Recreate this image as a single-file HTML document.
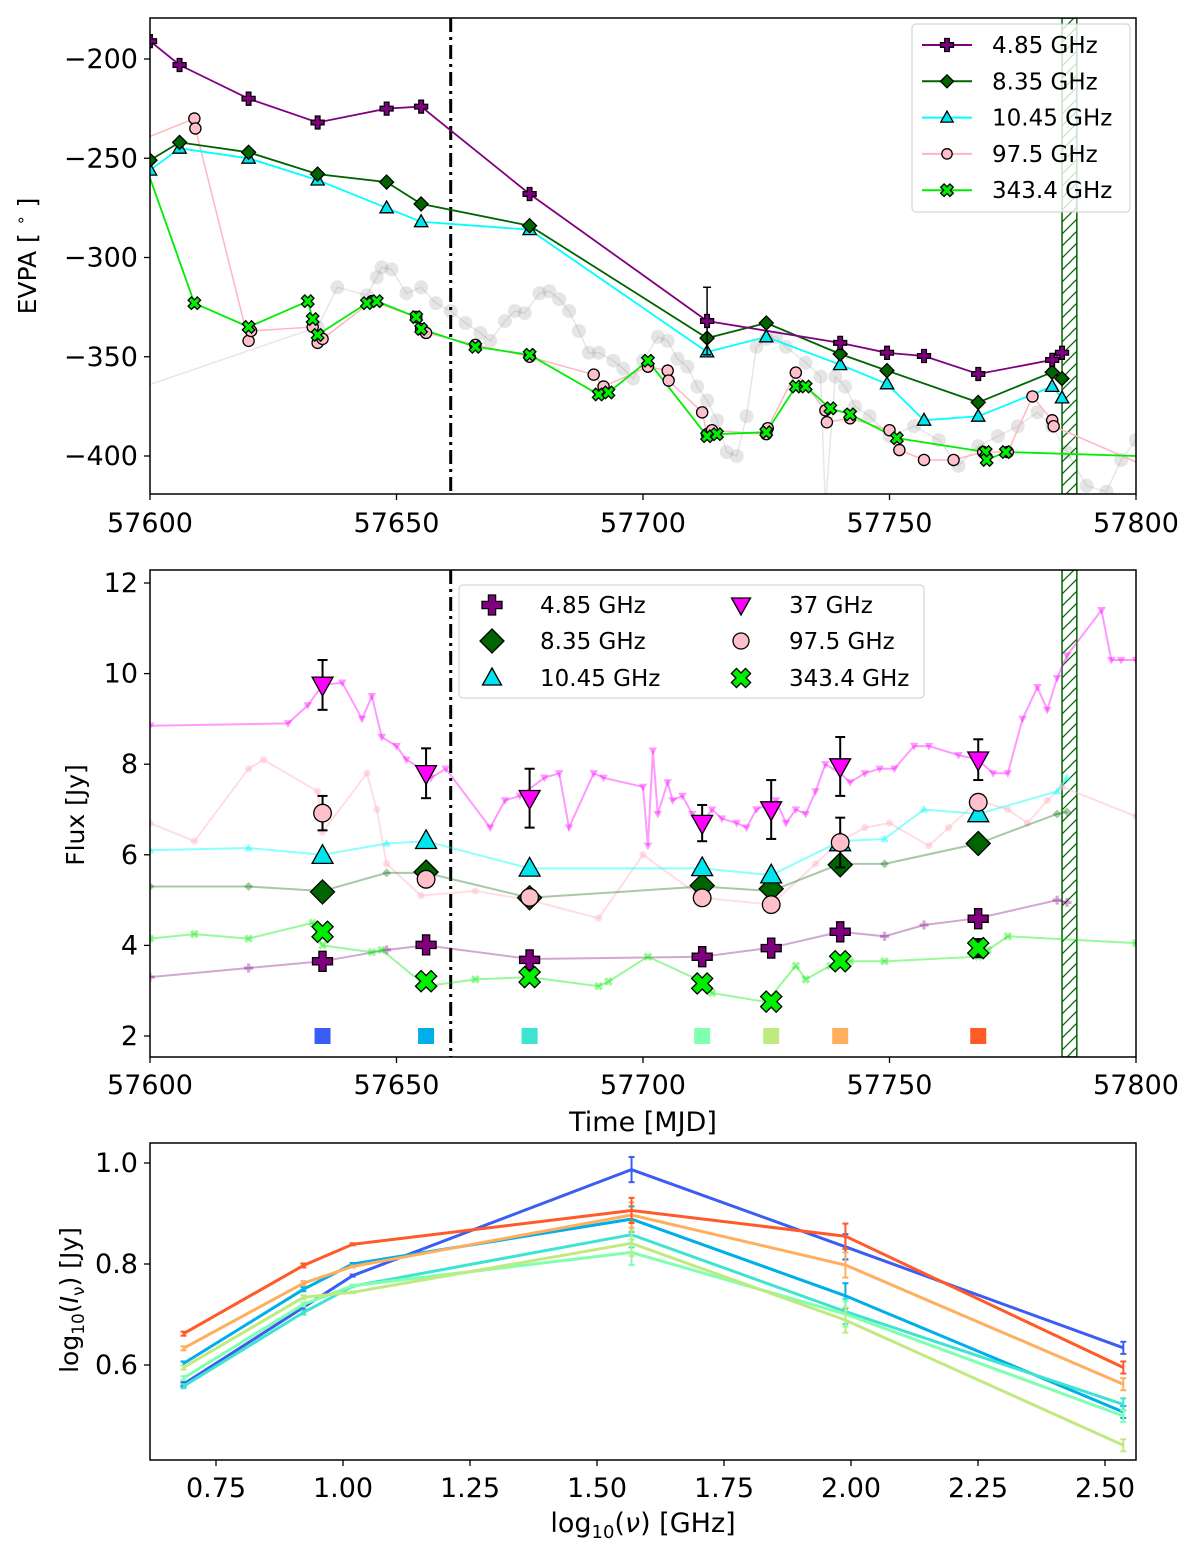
<!DOCTYPE html>
<html><head><meta charset="utf-8"><style>
html,body{margin:0;padding:0;background:#fff;}
svg{display:block;font-family:"DejaVu Sans","Liberation Sans",sans-serif;}
</style></head><body>
<svg id="fig" width="1200" height="1555" viewBox="0 0 1200 1555" xmlns="http://www.w3.org/2000/svg">
<defs>
<pattern id="hatch" patternUnits="userSpaceOnUse" width="12" height="12" patternTransform="rotate(0)">
<path d="M0,12 L12,0 M-3,3 L3,-3 M9,15 L15,9" stroke="#006400" stroke-width="1.2"/>
</pattern>
<clipPath id="c1"><rect x="150" y="18" width="986" height="476"/></clipPath>
<clipPath id="c2"><rect x="150" y="570" width="986" height="487"/></clipPath>
<clipPath id="c3"><rect x="150" y="1143" width="986" height="317"/></clipPath>
</defs>
<g id="p1" clip-path="url(#c1)"></g>
<g id="p2" clip-path="url(#c2)"></g>
<g id="p3" clip-path="url(#c3)"></g>
<g id="axes"></g>
</svg>
<script>
// ---------- EVPA panel data ----------
const evpaT485 = [57600,57606,57620,57634,57648,57655,57677,57713,57740,57749.5,57757,57768,57783,57785];
const evpaV485 = [-191,-203,-220,-232,-225,-224,-268,-332,-343,-348,-349.6,-358.7,-351.6,-348];
const evpaE485 = [0,0,0,0,0,0,0,17,0,0,0,0,0,0];
const evpaT835 = [57600,57606,57620,57634,57648,57655,57677,57713,57725,57740,57749.5,57768,57783,57785];
const evpaV835 = [-251,-242,-247,-258,-262,-273,-284,-340.6,-333,-348.6,-357,-373,-357.8,-361];
const evpaT1045 = [57600,57606,57620,57634,57648,57655,57677,57713,57725,57740,57749.5,57757,57768,57783,57785];
const evpaV1045 = [-256,-245,-250,-261,-275,-282,-286,-347.6,-340,-354,-363.7,-382,-380,-365,-370.8];
const evpaT975 = [57600,57609,57609.2,57620,57620.5,57633,57634,57635,57645,57654,57655,57656,57666,57677,57690,57692,57701,57705,57705.2,57712,57713,57714,57725,57725.3,57731,57737,57737.3,57742,57750,57752,57757,57763,57769,57774,57779,57783,57783.3,57800];
const evpaV975 = [-239,-230,-235,-342,-337,-335,-343,-341,-322,-330,-336,-338,-344,-350,-359,-365,-355,-357,-362,-378,-389,-387,-389,-386,-358,-377,-383,-381,-387,-397,-402,-402,-398,-398,-370,-382,-385,-403];
const evpaT3434 = [57600,57609,57620,57632,57633,57634,57644,57646,57654,57655,57666,57677,57691,57693,57701,57713,57715,57725,57731,57733,57738,57742,57751.5,57769.5,57769.7,57773.6,57800];
const evpaV3434 = [-260,-323,-335,-322,-331,-339,-323,-322,-330,-336,-345,-349,-369,-368,-352,-390,-389,-388,-365,-365,-376,-379,-391,-398,-402,-398,-400];
const evpaTopt = [57600,57634,57638,57644,57646,57647,57649,57652,57655,57658,57661,57664,57667,57669,57672,57674,57676,57679,57681,57683,57685,57687,57689,57691,57694,57696,57698,57700,57703,57705,57707,57709,57711,57713,57715,57717,57719,57721,57723,57725,57727,57729,57733,57736,57737,57739,57741,57743,57746,57750,57755,57760,57764,57768,57772,57776,57780,57783,57786,57790,57794,57797,57800];
const evpaVopt = [-364,-335,-315,-319,-310,-305,-306,-318,-315,-323,-327,-333,-338,-342,-332,-327,-328,-318,-317,-321,-327,-337,-348,-348,-352,-356,-361,-352,-340,-342,-351,-355,-365,-372,-382,-398,-400,-380,-345,-341,-340,-345,-353,-360,-425,-360,-365,-375,-380,-390,-385,-392,-405,-395,-390,-385,-378,-385,-398,-415,-418,-402,-392];
// ---------- Flux panel data ----------
const epochs = [57635,57656,57677,57712,57726,57740,57768];
const epochColors = ['#3b5ef2','#00aeea','#3ee4d0','#80ffb0','#c0ea80','#ffae5c','#ff5a28'];
const flux485 = [3.65,4.01,3.68,3.75,3.94,4.30,4.59];
const flux835 = [5.18,5.62,5.05,5.32,5.25,5.78,6.25];
const flux1045 = [5.98,6.31,5.70,5.71,5.55,6.26,6.90];
const flux37 = [9.75,7.80,7.25,6.70,7.00,7.95,8.10];
const flux37err = [0.55,0.55,0.65,0.4,0.65,0.65,0.45];
const flux975 = [6.92,5.46,5.06,5.05,4.90,6.27,7.16];
const flux975err = [0.38,0,0,0,0,0.55,0];
const flux3434 = [4.30,3.21,3.30,3.16,2.76,3.65,3.94];
const flux3434err = [0,0,0,0,0,0,0.2];
const bgT37 = [57600,57628,57632,57635,57639,57643,57645,57647,57650,57652,57655,57657,57660,57669,57672,57675,57680,57683,57685,57690,57692,57700,57701,57702,57703,57705,57706,57708,57710,57712,57714,57716,57719,57721,57723,57725,57727,57729,57731,57733,57735,57737,57740,57742,57745,57748,57751,57755,57758,57764,57768,57771,57774,57777,57780,57782,57784,57786,57793,57795,57797,57800];
const bgV37 = [8.85,8.9,9.3,9.75,9.8,9.0,9.5,8.6,8.4,8.1,7.9,7.7,7.9,6.6,7.2,7.3,7.7,7.8,6.6,7.8,7.7,7.5,6.2,8.3,6.9,7.6,7.2,7.3,6.9,6.7,7.0,6.8,6.7,6.6,7.0,7.1,7.2,6.7,7.0,6.9,7.4,8.0,7.8,7.6,7.8,7.9,7.9,8.4,8.4,8.2,8.1,7.8,7.8,9.0,9.7,9.2,9.9,10.4,11.4,10.3,10.3,10.3];
const bgT975 = [57600,57609,57620,57623,57634,57635,57644,57646,57648,57655,57666,57677,57691,57700,57712,57726,57735,57740,57745,57750,57758,57762,57768,57774,57778,57782,57785,57800];
const bgV975 = [6.7,6.3,7.9,8.1,7.4,6.5,7.8,7.0,5.8,5.1,5.2,5.0,4.6,6.0,5.05,4.9,5.8,6.3,6.6,6.7,6.2,6.6,7.2,7.0,6.7,7.2,7.5,6.85];
const bgT1045 = [57600,57620,57635,57648,57656,57677,57712,57726,57740,57749,57757,57768,57784,57786];
const bgV1045 = [6.1,6.15,6.0,6.25,6.3,5.7,5.7,5.55,6.3,6.35,7.0,6.9,7.4,7.7];
const bgT835 = [57600,57620,57635,57648,57656,57677,57712,57726,57740,57749,57768,57784,57786];
const bgV835 = [5.3,5.3,5.2,5.6,5.6,5.05,5.3,5.2,5.8,5.8,6.25,6.9,6.95];
const bgT485 = [57600,57620,57635,57648,57656,57677,57712,57726,57740,57749,57757,57768,57784,57786];
const bgV485 = [3.3,3.5,3.65,3.9,4.0,3.7,3.75,3.95,4.3,4.2,4.45,4.6,5.0,4.95];
const bgT3434 = [57600,57609,57620,57633,57635,57645,57647,57656,57666,57677,57691,57693,57701,57712,57714,57725,57731,57733,57738,57740,57742,57749,57768,57770,57774,57800];
const bgV3434 = [4.15,4.25,4.15,4.5,4.0,3.85,3.9,3.1,3.25,3.3,3.1,3.2,3.75,3.2,2.95,2.75,3.55,3.25,3.55,3.65,3.65,3.65,3.75,3.9,4.2,4.05];
// ---------- Spectrum panel data ----------
const logNu = [0.686,0.922,1.019,1.568,1.989,2.536];
const spec57635 = [0.562,0.714,0.777,0.987,0.834,0.634];
const spec57656 = [0.603,0.750,0.800,0.889,0.737,0.507];
const spec57677 = [0.558,0.704,0.756,0.858,0.706,0.522];
const spec57712 = [0.574,0.720,0.757,0.823,0.701,0.499];
const spec57726 = [0.595,0.734,0.744,0.841,0.689,0.441];
const spec57740 = [0.633,0.762,0.795,0.897,0.798,0.562];
const spec57768 = [0.662,0.797,0.839,0.906,0.855,0.595];
const specErr = [0.004,0.004,0.002,0.025,0.025,0.012];

const NS='http://www.w3.org/2000/svg';
function el(tag,attrs,parent){const e=document.createElementNS(NS,tag);for(const k in attrs)e.setAttribute(k,attrs[k]);parent.appendChild(e);return e;}
const X=m=>150+(m-57600)*4.93;
const Y1=v=>59+(-200-v)*1.985;
const Y2=v=>583+(12-v)*45.3;
const X3=v=>343+(v-1.0)*508;
const Y3=v=>1163+(1.0-v)*505;
const p1=document.getElementById('p1'),p2=document.getElementById('p2'),p3=document.getElementById('p3'),ax=document.getElementById('axes');

function marker(type,cx,cy,s,fill,stroke,op,parent){
  let d;const w=s*0.36;
  if(type==='plus'||type==='x'){
    const pts=[[-w,-s],[w,-s],[w,-w],[s,-w],[s,w],[w,w],[w,s],[-w,s],[-w,w],[-s,w],[-s,-w],[-w,-w]];
    const a=type==='x'?Math.PI/4:0;
    d=pts.map(p=>[(p[0]*Math.cos(a)-p[1]*Math.sin(a)+cx).toFixed(1),(p[0]*Math.sin(a)+p[1]*Math.cos(a)+cy).toFixed(1)].join(',')).join(' ');
    return el('polygon',{points:d,fill:fill,stroke:stroke,'stroke-width':1.3,opacity:op},parent);
  }
  if(type==='diamond') d=[[0,-s],[s,0],[0,s],[-s,0]];
  else if(type==='up') d=[[0,-s],[s*0.95,s*0.7],[-s*0.95,s*0.7]];
  else if(type==='down') d=[[0,s],[s*0.95,-s*0.7],[-s*0.95,-s*0.7]];
  if(type==='circle') return el('circle',{cx:cx,cy:cy,r:s*0.8,fill:fill,stroke:stroke,'stroke-width':1.3,opacity:op},parent);
  return el('polygon',{points:d.map(p=>(p[0]+cx).toFixed(1)+','+(p[1]+cy).toFixed(1)).join(' '),fill:fill,stroke:stroke,'stroke-width':1.3,opacity:op},parent);
}
function line(xs,ys,color,w,op,parent,name){
  const p=el('polyline',{points:xs.map((x,i)=>x.toFixed(1)+','+ys[i].toFixed(1)).join(' '),fill:'none',stroke:color,'stroke-width':w,opacity:op},parent);
  
  
  return p;
}
function errbar(x,y1,y2,color,w,parent,cap){
  el('line',{x1:x,x2:x,y1:y1,y2:y2,stroke:color,'stroke-width':w},parent);
  el('line',{x1:x-cap,x2:x+cap,y1:y1,y2:y1,stroke:color,'stroke-width':w},parent);
  el('line',{x1:x-cap,x2:x+cap,y1:y2,y2:y2,stroke:color,'stroke-width':w},parent);
}
function txt(x,y,s,size,anchor,parent,name,rot){
  const t=el('text',{x:x,y:y,'font-size':size,'text-anchor':anchor||'middle',fill:'#000'},parent);
  if(rot) t.setAttribute('transform','rotate(-90 '+x+' '+y+')');
  t.innerHTML=s;
  
  
  return t;
}

// ===== Panel 1 =====
// optical bg
line(evpaTopt.map(X),evpaVopt.map(Y1),'#bbb',1.5,0.35,p1,'evpa-optical-line');
evpaTopt.forEach((t,i)=>{ if(i>0) el('circle',{cx:X(t),cy:Y1(evpaVopt[i]),r:7,fill:'#999',opacity:0.25},p1); });
el('rect',{x:X(57785),y:18,width:X(57788)-X(57785),height:476,fill:'url(#hatch)',stroke:'#006400','stroke-width':1.5},p1);
line([X(57661),X(57661)],[18,494],'#000',3,1,p1,'evpa-event-line').setAttribute('stroke-dasharray','14,5,3,5');
line(evpaT975.map(X),evpaV975.map(Y1),'#ffb6c1',1.5,1,p1,'evpa-97.5-line');
line(evpaT3434.map(X),evpaV3434.map(Y1),'#00ee00',1.8,1,p1,'evpa-343.4-line');
line(evpaT1045.map(X),evpaV1045.map(Y1),'#00ffff',1.8,1,p1,'evpa-10.45-line');
line(evpaT835.map(X),evpaV835.map(Y1),'#006400',1.8,1,p1,'evpa-8.35-line');
line(evpaT485.map(X),evpaV485.map(Y1),'#800080',1.8,1,p1,'evpa-4.85-line');
evpaT975.forEach((t,i)=>{ if(i>0&&i<evpaT975.length-1) marker('circle',X(t),Y1(evpaV975[i]),7,'#ffc0cb','#000',1,p1); });
evpaT3434.forEach((t,i)=>{ if(i>0&&i<evpaT3434.length-1) marker('x',X(t),Y1(evpaV3434[i]),6.5,'#00ee00','#000',1,p1); });
evpaT1045.forEach((t,i)=>marker('up',X(t),Y1(evpaV1045[i]),7,'#00e5ee','#000',1,p1));
evpaT835.forEach((t,i)=>marker('diamond',X(t),Y1(evpaV835[i]),7,'#006400','#000',1,p1));
evpaT485.forEach((t,i)=>{ if(evpaE485[i]) errbar(X(t),Y1(evpaV485[i]+evpaE485[i]),Y1(evpaV485[i]-evpaE485[i]),'#000',1.5,p1,4); marker('plus',X(t),Y1(evpaV485[i]),6.5,'#800080','#000',1,p1); });

// ===== Panel 2 =====
el('rect',{x:X(57785),y:570,width:X(57788)-X(57785),height:487,fill:'url(#hatch)',stroke:'#006400','stroke-width':1.5},p2);
line([X(57661),X(57661)],[570,1057],'#000',3,1,p2,'flux-event-line').setAttribute('stroke-dasharray','14,5,3,5');
const bgs=[[bgT975,bgV975,'#ffb6c1',0.45,'circle'],[bgT37,bgV37,'#ff00ff',0.4,'down'],[bgT1045,bgV1045,'#00ffff',0.45,'up'],[bgT835,bgV835,'#006400',0.35,'diamond'],[bgT485,bgV485,'#800080',0.35,'plus'],[bgT3434,bgV3434,'#00ee00',0.4,'x']];
bgs.forEach(b=>{
  line(b[0].map(X),b[1].map(Y2),b[2],2,b[3],p2,'flux-bg-line');
  b[0].forEach((t,i)=>marker(b[4],X(t),Y2(b[1][i]),4.5,b[2],'none',b[3],p2));
});
epochs.forEach((t,i)=>{
  const sq=el('rect',{x:X(t)-8,y:Y2(2)-8,width:16,height:16,fill:epochColors[i]},p2);
  
  
  const x=X(t);
  marker('plus',x,Y2(flux485[i]),10,'#800080','#000',1,p2);
  if(flux3434err[i]) errbar(x,Y2(flux3434[i]+flux3434err[i]),Y2(flux3434[i]-flux3434err[i]),'#000',2,p2,5);
  marker('x',x,Y2(flux3434[i]),11,'#00ee00','#000',1,p2);
  marker('diamond',x,Y2(flux835[i]),12,'#006400','#000',1,p2);
  marker('up',x,Y2(flux1045[i]),11,'#00e5ee','#000',1,p2);
  if(flux975err[i]) errbar(x,Y2(flux975[i]+flux975err[i]),Y2(flux975[i]-flux975err[i]),'#000',2,p2,5);
  marker('circle',x,Y2(flux975[i]),11,'#ffc0cb','#000',1,p2);
  errbar(x,Y2(flux37[i]+flux37err[i]),Y2(flux37[i]-flux37err[i]),'#000',2,p2,5);
  marker('down',x,Y2(flux37[i]),11,'#ff00ff','#000',1,p2);
});

// ===== Panel 3 =====
const specs=[spec57635,spec57656,spec57677,spec57712,spec57726,spec57740,spec57768];
specs.forEach((s,j)=>{
  line(logNu.map(X3),s.map(Y3),epochColors[j],3,1,p3,'spectrum-line');
  logNu.forEach((v,i)=>errbar(X3(v),Y3(s[i]+specErr[i]),Y3(s[i]-specErr[i]),epochColors[j],2,p3,3));
});

// ===== Axes =====
[[18,494],[570,1057],[1143,1460]].forEach(r=>el('rect',{x:150,y:r[0],width:986,height:r[1]-r[0],fill:'none',stroke:'#000','stroke-width':1.5},ax));
const xt=[57600,57650,57700,57750,57800];
[[494,532],[1057,1094]].forEach(r=>xt.forEach(t=>{el('line',{x1:X(t),x2:X(t),y1:r[0],y2:r[0]+6,stroke:'#000','stroke-width':1.3},ax);txt(X(t),r[1],t,27,'middle',ax,'x-tick-label');}));
[-200,-250,-300,-350,-400].forEach(v=>{el('line',{x1:144,x2:150,y1:Y1(v),y2:Y1(v),stroke:'#000','stroke-width':1.3},ax);txt(138,Y1(v)+9,'\u2212'+(-v),27,'end',ax,'y-tick-label');});
[2,4,6,8,10,12].forEach(v=>{el('line',{x1:144,x2:150,y1:Y2(v),y2:Y2(v),stroke:'#000','stroke-width':1.3},ax);txt(138,Y2(v)+9,v,27,'end',ax,'y-tick-label');});
[0.6,0.8,1.0].forEach(v=>{el('line',{x1:144,x2:150,y1:Y3(v),y2:Y3(v),stroke:'#000','stroke-width':1.3},ax);txt(138,Y3(v)+9,v.toFixed(1),27,'end',ax,'y-tick-label');});
[0.75,1.0,1.25,1.5,1.75,2.0,2.25,2.5].forEach(v=>{el('line',{x1:X3(v),x2:X3(v),y1:1460,y2:1466,stroke:'#000','stroke-width':1.3},ax);txt(X3(v),1497,v.toFixed(2),27,'middle',ax,'x-tick-label');});
txt(36,256,'EVPA [ <tspan font-size="16" dy="-10">\u2218</tspan><tspan dy="10"> ]</tspan>',25,'middle',ax,'y-axis-title-evpa',true);
txt(84,815,'Flux [Jy]',25,'middle',ax,'y-axis-title-flux',true);
txt(78,1300,'log<tspan font-size="17" dy="6">10</tspan><tspan dy="-6">(</tspan><tspan font-style="italic">I</tspan><tspan font-size="17" dy="6">\u03bd</tspan><tspan dy="-6">) [Jy]</tspan>',25,'middle',ax,'y-axis-title-spectrum',true);
txt(643,1131,'Time [MJD]',27,'middle',ax,'x-axis-title-time');
txt(643,1532,'log<tspan font-size="18" dy="6">10</tspan><tspan dy="-6">(</tspan><tspan font-style="italic">\u03bd</tspan>) [GHz]',27,'middle',ax,'x-axis-title-frequency');

// Legend 1
const lg1=el('g',{},ax);


el('rect',{x:912,y:24,width:218,height:188,rx:4,fill:'#fff','fill-opacity':0.8,stroke:'#ccc'},lg1);
const L1=[['4.85 GHz','#800080','plus','#800080'],['8.35 GHz','#006400','diamond','#006400'],['10.45 GHz','#00ffff','up','#00e5ee'],['97.5 GHz','#ffb6c1','circle','#ffc0cb'],['343.4 GHz','#00ee00','x','#00ee00']];
L1.forEach((e,i)=>{const y=45+i*36.3;el('line',{x1:922,x2:972,y1:y,y2:y,stroke:e[1],'stroke-width':2},lg1);marker(e[2],947,y,6.5,e[3],'#000',1,lg1);txt(992,y+8,e[0],23,'start',lg1,'legend-entry');});
// Legend 2
const lg2=el('g',{},ax);


el('rect',{x:459,y:585,width:465,height:113,rx:4,fill:'#fff','fill-opacity':0.8,stroke:'#ccc'},lg2);
const L2=[['4.85 GHz','plus','#800080',492,605],['8.35 GHz','diamond','#006400',492,641],['10.45 GHz','up','#00e5ee',492,678],['37 GHz','down','#ff00ff',741,605],['97.5 GHz','circle','#ffc0cb',741,641],['343.4 GHz','x','#00ee00',741,678]];
L2.forEach(e=>{marker(e[1],e[3],e[4],e[1]==='diamond'?12:10,e[2],'#000',1,lg2);txt(e[3]+48,e[4]+8,e[0],23,'start',lg2,'legend-entry');});
</script>
</body></html>
